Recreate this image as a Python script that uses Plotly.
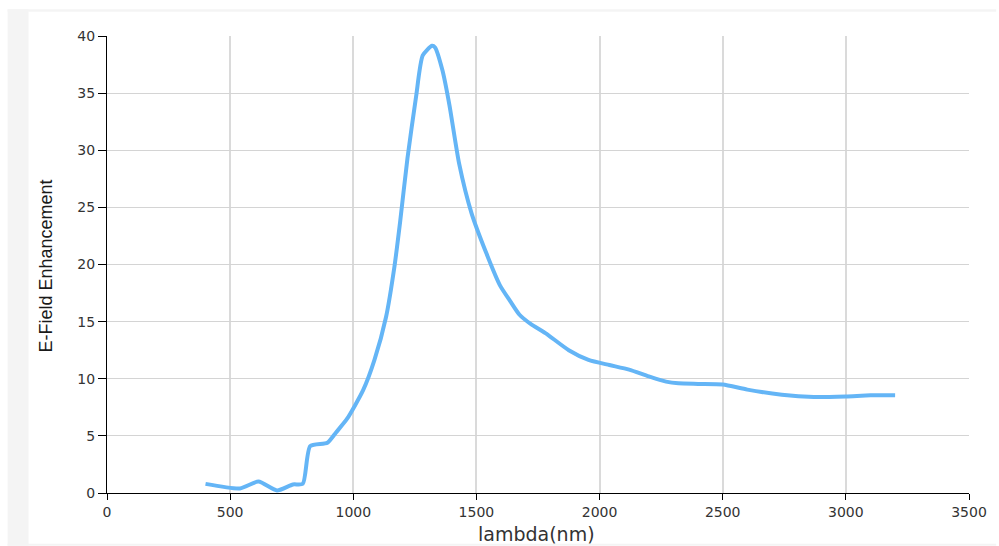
import plotly.graph_objects as go

# Wavelength (nm) and field enhancement factor
wavelength = [400, 540, 615, 690, 755, 795, 825, 895, 930, 975, 1040, 1086, 1133,
              1167, 1190, 1220, 1255, 1282, 1320, 1332, 1362, 1390, 1430, 1480,
              1540, 1595, 1640, 1675, 1720, 1780, 1875, 1955, 2040, 2120, 2200,
              2270, 2320, 2400, 2500, 2600, 2740, 2870, 3000, 3100, 3200]
enhancement = [0.8, 0.4, 1.0, 0.22, 0.75, 0.8, 4.1, 4.4, 5.3, 6.5, 9.0, 11.65, 15.4,
               19.8, 23.7, 29.3, 34.7, 38.3, 39.15, 39.0, 37.0, 34.0, 28.8, 24.5,
               21.0, 18.2, 16.7, 15.6, 14.8, 14.0, 12.5, 11.65, 11.2, 10.8, 10.2,
               9.75, 9.6, 9.55, 9.5, 9.05, 8.6, 8.4, 8.45, 8.55, 8.55]

x_ticks = [0, 500, 1000, 1500, 2000, 2500, 3000, 3500]
y_ticks = [0, 5, 10, 15, 20, 25, 30, 35, 40]

W, H = 999, 546
L, R, T, B = 106.7, 27.3, 35.7, 52.7
pw, ph = W - L - R, H - T - B


def px(x):
    return (x - L) / pw


def py(y):
    return (H - B - y) / ph


fig = go.Figure(go.Scatter(
    x=wavelength, y=enhancement, mode="lines",
    line=dict(color="#64b5f6", width=4, shape="spline", smoothing=0.6),
    hoverinfo="x+y",
))

tick_font = dict(family="DejaVu Sans", size=14, color="#333333")

fig.update_xaxes(
    range=[0, 3500], tickvals=x_ticks, ticktext=[str(v) for v in x_ticks],
    showline=True, linecolor="#000000", linewidth=1,
    ticks="outside", ticklen=6, tickcolor="#000000",
    showgrid=True, gridcolor="#dadada", gridwidth=2,
    zeroline=False, tickfont=tick_font,
)
fig.update_yaxes(
    range=[0, 40], tickvals=y_ticks, ticktext=[str(v) for v in y_ticks],
    showline=True, linecolor="#000000", linewidth=1,
    ticks="outside", ticklen=8, tickcolor="#000000",
    showgrid=True, gridcolor="#d4d4d4", gridwidth=1,
    zeroline=False, tickfont=tick_font,
)

panel = "#f4f4f4"
fig.update_layout(
    width=W, height=H,
    margin=dict(l=L, r=R, t=T, b=B, pad=0),
    paper_bgcolor="#ffffff", plot_bgcolor="#ffffff",
    showlegend=False,
    shapes=[
        dict(type="rect", xref="paper", yref="paper", layer="below", line_width=0,
             fillcolor=panel, x0=px(7), x1=px(28), y0=py(546), y1=py(9)),
        dict(type="rect", xref="paper", yref="paper", layer="below", line_width=0,
             fillcolor=panel, x0=px(7), x1=px(999), y0=py(11.5), y1=py(9)),
        dict(type="rect", xref="paper", yref="paper", layer="below", line_width=0,
             fillcolor=panel, x0=px(7), x1=px(999), y0=py(546), y1=py(544)),
    ],
    annotations=[
        dict(text="lambda(nm)", xref="paper", yref="paper", x=px(538), y=py(546),
             xanchor="center", yanchor="bottom", showarrow=False, borderpad=0,
             font=dict(family="DejaVu Sans", size=19, color="#333333")),
        dict(text="E-Field Enhancement", xref="paper", yref="paper", x=px(45), y=py(266),
             xanchor="center", yanchor="middle", showarrow=False, textangle=-90,
             font=dict(family="Liberation Sans", size=18, color="#1a1a1a")),
    ],
)

fig.write_html("out.html")
